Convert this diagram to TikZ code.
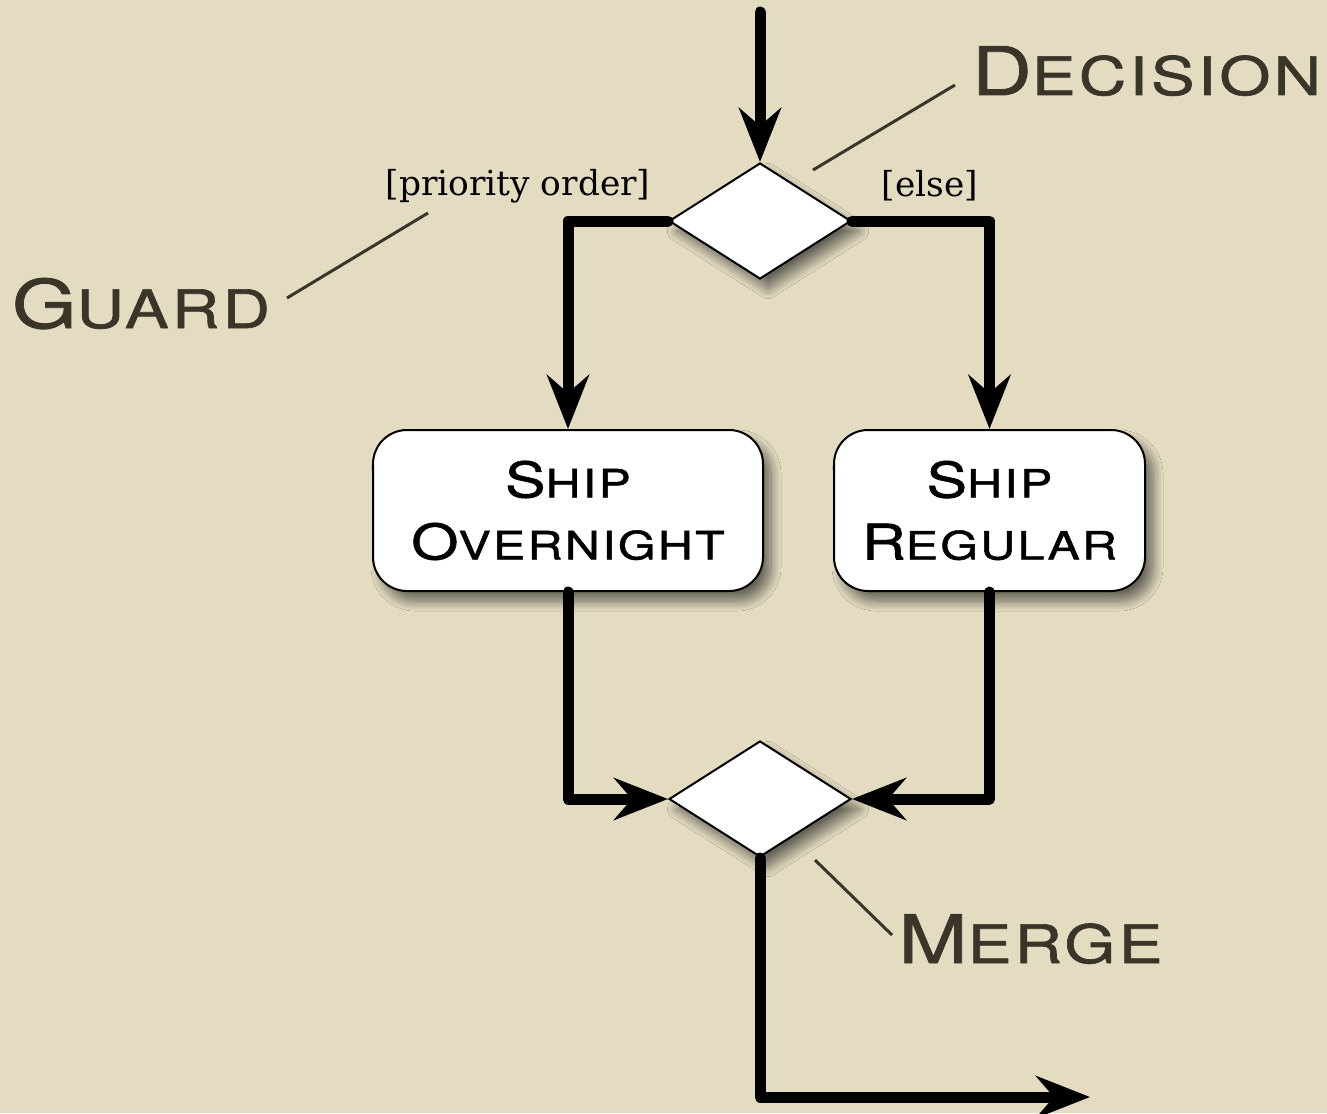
\documentclass[tikz,border=0pt]{standalone}
\usepackage{fontspec}
\usetikzlibrary{shapes.geometric,arrows.meta,shadows.blur}
\newfontfamily\cpfont[FakeStretch=1.24,LetterSpace=6,FakeBold=1.2]{TeX Gyre Heros}
\newfontfamily\guardfont{DejaVu Serif}
\definecolor{bgc}{RGB}{227,220,193}
\definecolor{callc}{RGB}{58,53,41}
\newcommand\bigsc[2]{{\fontsize{33.5}{36}\selectfont #1}{\fontsize{26.5}{30}\selectfont #2}}
\newcommand\boxsc[2]{{\fontsize{24.5}{31}\selectfont #1}{\fontsize{19.5}{31}\selectfont #2}}
\begin{document}
\begin{tikzpicture}[x=0.5pt,y=-0.5pt,
  flow/.style={line width=5.5pt,line cap=round,line join=round,
    -{Stealth[length=27pt,width=21pt,inset=9pt]}},
  dia/.style={diamond,draw=black,line width=1pt,fill=white,inner sep=0pt,
    minimum width=91pt,minimum height=58pt,
    blur shadow={shadow xshift=4pt,shadow yshift=-5pt,shadow blur radius=5pt,shadow blur steps=14,shadow opacity=55}},
  act/.style={rectangle,rounded corners=17pt,draw=black,line width=1pt,fill=white,
    minimum height=80.5pt,inner sep=0pt,align=center,
    font=\cpfont\fontsize{24.5}{31}\selectfont,
    blur shadow={shadow xshift=4pt,shadow yshift=-5pt,shadow blur radius=5pt,shadow blur steps=14,shadow opacity=55}},
  callout/.style={text=callc,font=\cpfont,anchor=base,inner sep=0pt},
  callline/.style={draw=callc,line width=1.5pt},
  guard/.style={font=\guardfont\fontsize{17.2}{20}\selectfont,inner sep=0pt}]
\fill[bgc] (0,0) rectangle (1327,1113);
\useasboundingbox (0,0) rectangle (1327,1113);

% nodes
\node[dia] (dec) at (760,221) {};
\node[dia] (mer) at (760,799) {};
\node[act,minimum width=195pt] (ov) at (568,510.5) {\boxsc{S}{HIP}\\\boxsc{O}{VERNIGHT}};
\node[act,minimum width=155.5pt] (rg) at (989.5,510.5) {\boxsc{S}{HIP}\\\boxsc{R}{EGULAR}};

\coordinate (start) at (760,12);
\coordinate (finish) at (1090,1097);

% flows
\draw[flow] (start) -- (dec.north);
\draw[flow] (dec.west) -| (ov.north);
\draw[flow] (dec.east) -| (rg.north);
\draw[flow] (ov.south) |- (mer.west);
\draw[flow] (rg.south) |- (mer.east);
\draw[flow] (mer.south) |- (finish);

% guards
\node[guard] (g1) at (518,186) {[priority order]};
\node[guard] (g2) at (930,186) {[else]};

% callouts
\node[callout] (tdec) at (1146.5,95) {\bigsc{D}{ECISION}};
\node[callout] (tgua) at (141,328) {\bigsc{G}{UARD}};
\node[callout] (tmer) at (1030.5,963) {\bigsc{M}{ERGE}};

\coordinate (d1) at (813,170);
\coordinate (d2) at (955,85);
\coordinate (ga1) at (287,298);
\coordinate (ga2) at (428,213);
\coordinate (m1) at (815,860);
\coordinate (m2) at (892,935);
\draw[callline] (d1) -- (d2);
\draw[callline] (ga1) -- (ga2);
\draw[callline] (m1) -- (m2);
\end{tikzpicture}
\end{document}
